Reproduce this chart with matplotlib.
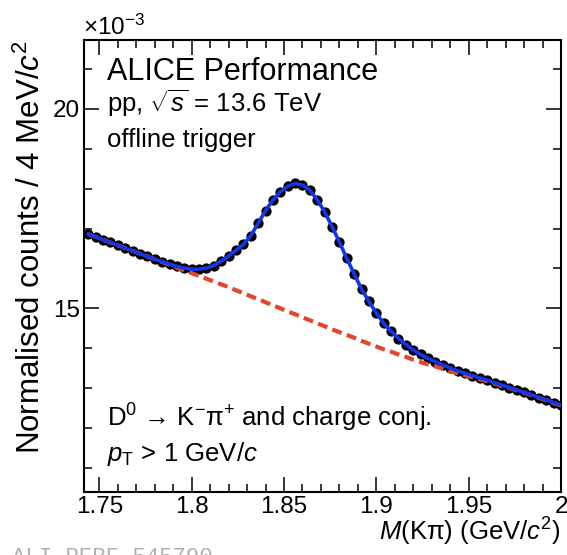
import matplotlib
matplotlib.use("Agg")
import matplotlib.pyplot as plt
import numpy as np
from matplotlib.ticker import MultipleLocator, FuncFormatter

plt.rcParams['font.family'] = ['Liberation Sans', 'DejaVu Sans']
plt.rcParams['mathtext.fontset'] = 'custom'
plt.rcParams['mathtext.rm'] = 'Liberation Sans'
plt.rcParams['mathtext.it'] = 'Liberation Sans:italic'
plt.rcParams['mathtext.bf'] = 'Liberation Sans:bold'

# ---- data (normalised counts, units of 1e-3) ----
bin_first = 1.744      # GeV/c^2, first bin centre
bin_width = 0.004      # 4 MeV/c^2
counts = [16.86, 16.79, 16.72, 16.65, 16.58, 16.51, 16.44, 16.37, 16.30, 16.23,
          16.17, 16.11, 16.05, 16.01, 15.98, 15.98, 16.01, 16.07, 16.18, 16.31,
          16.45, 16.60, 16.82, 17.13, 17.45, 17.71, 17.92, 18.06, 18.13, 18.09,
          17.96, 17.72, 17.42, 17.05, 16.66, 16.25, 15.86, 15.48, 15.17, 14.88,
          14.62, 14.42, 14.24, 14.09, 13.95, 13.84, 13.74, 13.66, 13.58, 13.50,
          13.43, 13.37, 13.31, 13.25, 13.20, 13.13, 13.07, 13.01, 12.95, 12.89,
          12.83, 12.76, 12.70, 12.63, 12.57]
fit_total = counts
fit_bkg = [16.86, 16.79, 16.72, 16.65, 16.58, 16.51, 16.44, 16.37, 16.30, 16.23,
           16.16, 16.09, 16.02, 15.95, 15.88, 15.81, 15.74, 15.67, 15.60, 15.53,
           15.45, 15.38, 15.30, 15.23, 15.15, 15.07, 15.00, 14.92, 14.85, 14.77,
           14.70, 14.62, 14.55, 14.47, 14.40, 14.33, 14.26, 14.18, 14.11, 14.04,
           13.97, 13.91, 13.84, 13.78, 13.71, 13.65, 13.59, 13.54, 13.48, 13.42,
           13.37, 13.32, 13.27, 13.22, 13.17, 13.11, 13.05, 13.00, 12.94, 12.88,
           12.82, 12.75, 12.69, 12.62, 12.56]
mass = bin_first + bin_width * np.arange(len(counts))

W, H = 567, 555
fig = plt.figure(figsize=(W / 100, H / 100), dpi=100)
ax = fig.add_axes([84 / W, 1 - 492 / H, 477 / W, 452 / H])

ax.plot(mass, counts, 'o', color='black', ms=7.4, mew=0, zorder=2)
ax.plot(mass, fit_bkg, color='#e2472b', lw=3.0, dashes=(2.4, 1.3), zorder=3)
ax.plot(mass, fit_total, color='#1436e6', lw=2.6, zorder=4)

ax.set_xlim(1.7417, 2.0)
ax.set_ylim(10.39, 21.73)

ax.xaxis.set_major_locator(MultipleLocator(0.05))
ax.xaxis.set_minor_locator(MultipleLocator(0.01))
ax.yaxis.set_major_locator(MultipleLocator(5))
ax.yaxis.set_minor_locator(MultipleLocator(1))
ax.xaxis.set_major_formatter(FuncFormatter(lambda v, p: '%g' % round(v, 3)))
ax.yaxis.set_major_formatter(FuncFormatter(lambda v, p: '%g' % round(v, 3)))
ax.tick_params(which='both', direction='in', top=True, right=True, width=1.1,
               labelsize=17.5)
ax.tick_params(which='major', length=10.5)
ax.tick_params(which='minor', length=5.5)
ax.tick_params(axis='x', pad=3)
ax.tick_params(axis='y', pad=3)
for s in ax.spines.values():
    s.set_linewidth(1.5)

# axis titles
fig.text(561 / W, 1 - 541 / H, r'$M$(Kπ) (GeV/$c^{2}$)', ha='right',
         va='baseline', fontsize=18.5)
fig.text(16 / W, 1 - 40 / H, r'Normalised counts / 4 MeV/$c^{2}$', rotation=90,
         ha='left', va='top', fontsize=22.5)
fig.text(83 / W, 1 - 35 / H, r'×10$^{-3}$', ha='left', va='baseline', fontsize=17.5)

# annotations
tx = 0.048
ax.text(tx, 0.9115, 'ALICE Performance', transform=ax.transAxes, fontsize=22,
        va='baseline')
ax.text(tx, 0.8407, r'pp, $\sqrt{s}$ = 13.6 TeV', transform=ax.transAxes,
        fontsize=18.5, va='baseline')
ax.text(tx, 0.763, 'offline trigger', transform=ax.transAxes, fontsize=18.5,
        va='baseline')
ax.text(tx, 0.144, r'D$^{0}$ → K$^{-}$π$^{+}$ and charge conj.',
        transform=ax.transAxes, fontsize=18.5, va='baseline')
ax.text(tx, 0.0675, r'$p_{\mathrm{T}}$ > 1 GeV/$c$', transform=ax.transAxes,
        fontsize=18.5, va='baseline')

fig.text(12 / W, 1 - 547 / H, 'ALI-PERF-545790', ha='left', va='top',
         fontsize=16, color='#b0b0b0', family=['Liberation Mono', 'DejaVu Sans Mono'])

fig.savefig('out.png', dpi=100)
